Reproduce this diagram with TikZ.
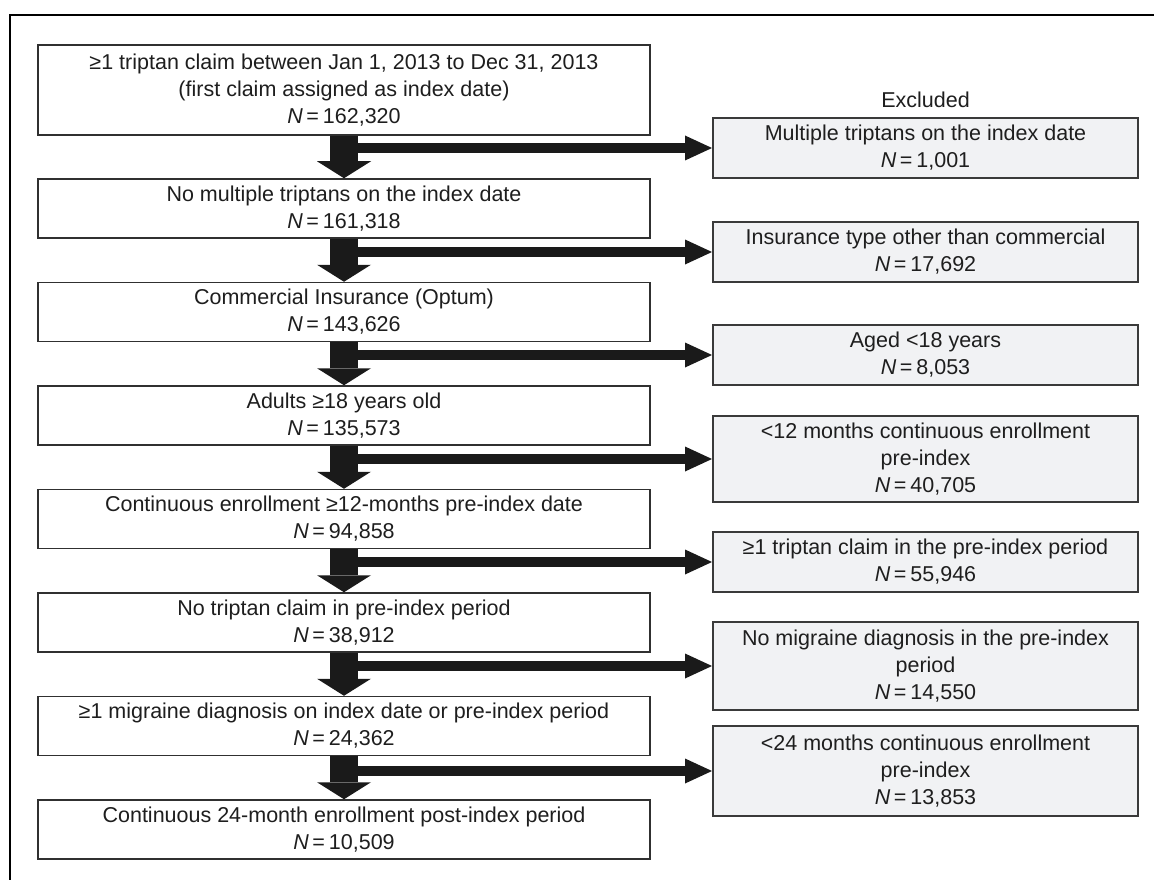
\documentclass[tikz,border=0pt]{standalone}
\usepackage{fontspec}
\setmainfont{Liberation Sans}
\usetikzlibrary{arrows.meta}
\definecolor{boxline}{HTML}{303030}
\definecolor{rline}{HTML}{3A3A3A}
\definecolor{exfill}{HTML}{F1F2F4}
\definecolor{txt}{HTML}{1E1E1E}
\definecolor{arr}{HTML}{1A1A1A}
\newcommand{\Nval}[1]{\textit{N}\kern3.5pt=\kern4pt#1}
\begin{document}
\begin{tikzpicture}[x=1pt,y=-1pt,
  lbox/.style={draw=boxline, line width=1.5pt, fill=white, minimum width=612pt,
    minimum height=59pt, inner sep=0pt, align=center, text=txt,
    font=\fontsize{21.5}{27}\selectfont},
  rbox/.style={lbox, draw=rline, line width=2pt, fill=exfill, minimum width=425pt,
    minimum height=60pt},
  downarrow/.style={draw=arr, line width=28pt,
    -{Triangle[width=54pt,length=17pt,line width=0pt]}},
  sidearrow/.style={draw=arr, line width=9.5pt,
    -{Triangle[width=25pt,length=27pt,line width=0pt]}},
]
\fill[white] (0,0) rectangle (1154,880);
\useasboundingbox (0,0) rectangle (1154,880);
\draw[line width=2.5pt, black] (10,880) -- (10,15) -- (1154,15);

% main column
\node[lbox, minimum height=90pt] (L1) at (344,90)
  {≥1 triptan claim between Jan 1, 2013 to Dec 31, 2013\\(first claim assigned as index date)\\\Nval{162,320}};
\node[lbox] (L2) at (344,208.5) {No multiple triptans on the index date\\\Nval{161,318}};
\node[lbox] (L3) at (344,312) {Commercial Insurance (Optum)\\\Nval{143,626}};
\node[lbox] (L4) at (344,415.5) {Adults ≥18 years old\\\Nval{135,573}};
\node[lbox] (L5) at (344,519) {Continuous enrollment ≥12-months pre-index date\\\Nval{94,858}};
\node[lbox] (L6) at (344,622.5) {No triptan claim in pre-index period\\\Nval{38,912}};
\node[lbox] (L7) at (344,726) {≥1 migraine diagnosis on index date or pre-index period\\\Nval{24,362}};
\node[lbox] (L8) at (344,829.5) {Continuous 24-month enrollment post-index period\\\Nval{10,509}};

% excluded column
\node[anchor=base, text=txt, font=\fontsize{21.5}{27}\selectfont] (exc) at (925.5,108) {Excluded};
\node[rbox] (R1) at (925.5,148) {Multiple triptans on the index date\\\Nval{1,001}};
\node[rbox] (R2) at (925.5,252) {Insurance type other than commercial\\\Nval{17,692}};
\node[rbox] (R3) at (925.5,355) {Aged <18 years\\\Nval{8,053}};
\node[rbox, minimum height=86pt] (R4) at (925.5,459) {<12 months continuous enrollment\\pre-index\\\Nval{40,705}};
\node[rbox] (R5) at (925.5,562) {≥1 triptan claim in the pre-index period\\\Nval{55,946}};
\node[rbox, minimum height=88pt] (R6) at (925.5,666) {No migraine diagnosis in the pre-index\\period\\\Nval{14,550}};
\node[rbox, minimum height=90pt] (R7) at (925.5,771) {<24 months continuous enrollment\\pre-index\\\Nval{13,853}};

% connectors
\foreach \a/\b in {1/2,2/3,3/4,4/5,5/6,6/7,7/8}{
  \draw[downarrow] (L\a.south) -- (L\b.north);
  \draw[sidearrow] (L\a.south |- R\a.west) -- (R\a.west);
}
\end{tikzpicture}
\end{document}
